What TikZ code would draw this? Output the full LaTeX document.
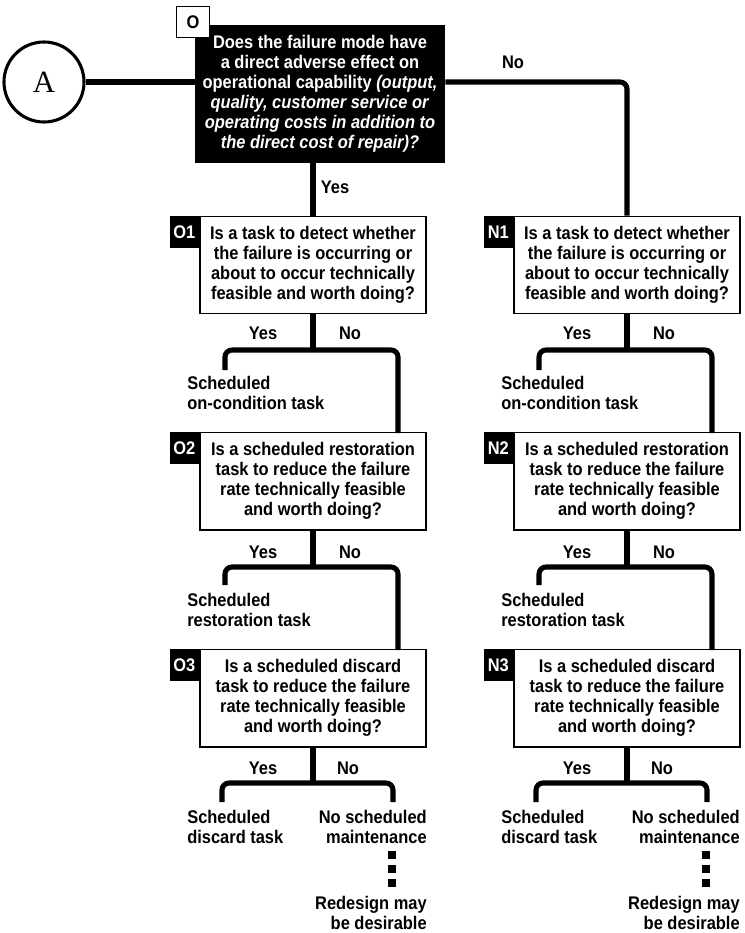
\documentclass[tikz,border=0pt]{standalone}
\usepackage{fontspec}
\setmainfont{Liberation Sans}[FakeStretch=0.9]
\newfontfamily\circfont{Liberation Serif}
\usetikzlibrary{positioning}
\newcommand{\qfont}{\fontsize{13}{14.2}\selectfont\bfseries}
\tikzset{
	wire/.style={line width=3.6pt, rounded corners=5pt},
	qbox/.style={draw, line width=1.4pt, fill=white, align=center, minimum width=5.65cm, minimum height=2.425cm, inner sep=2pt, font=\qfont},
	tagbox/.style={fill=black, text=white, minimum width=0.72cm, minimum height=0.8cm, inner sep=0pt, anchor=north east, font=\qfont},
	lbl/.style={font=\qfont, inner sep=1pt},
	outl/.style={font=\qfont, align=left, anchor=north west, inner sep=0pt},
	outr/.style={font=\qfont, align=right, anchor=north east, inner sep=0pt},
	dotsq/.style={fill=black, minimum size=0.18cm, inner sep=0pt}
}

\begin{document}
\begin{tikzpicture}[x=0.025cm, y=-0.025cm]
					\useasboundingbox (0,0) rectangle (744,933);
					
					\node[draw, circle, line width=2.2pt, minimum size=2cm, font=\circfont\fontsize{22}{22}\selectfont] (a) at (44,82) {A};
					\node[fill=black, text=white, align=center, minimum width=6.25cm, minimum height=3.45cm, inner sep=2pt, font=\qfont] (q0) at (320,94) {Does the failure mode have\\a direct adverse effect on\\operational capability \textit{(output,}\\\textit{quality, customer service or}\\\textit{operating costs in addition to}\\\textit{the direct cost of repair)?}};
					\node[draw, fill=white, line width=1.2pt, minimum width=0.82cm, minimum height=0.78cm, inner sep=0pt, font=\qfont] (t0) at (193,22) {O};
					
					\node[qbox] (o1) at (313,265) {Is a task to detect whether\\the failure is occurring or\\about to occur technically\\feasible and worth doing?};
					\node[qbox] (o2) at (313,481) {Is a scheduled restoration\\task to reduce the failure\\rate technically feasible\\and worth doing?};
					\node[qbox] (o3) at (313,698) {Is a scheduled discard\\task to reduce the failure\\rate technically feasible\\and worth doing?};
					\node[qbox] (n1) at (627,265) {Is a task to detect whether\\the failure is occurring or\\about to occur technically\\feasible and worth doing?};
					\node[qbox] (n2) at (627,481) {Is a scheduled restoration\\task to reduce the failure\\rate technically feasible\\and worth doing?};
					\node[qbox] (n3) at (627,698) {Is a scheduled discard\\task to reduce the failure\\rate technically feasible\\and worth doing?};
					\node[tagbox] (to1) at (o1.north west) {O1};
					\node[tagbox] (to2) at (o2.north west) {O2};
					\node[tagbox] (to3) at (o3.north west) {O3};
					\node[tagbox] (tn1) at (n1.north west) {N1};
					\node[tagbox] (tn2) at (n2.north west) {N2};
					\node[tagbox] (tn3) at (n3.north west) {N3};
					
					\coordinate (o1b) at (313,350);
					\coordinate (o1y) at (225,370);
					\coordinate (o1n) at (398,433);
					\coordinate (o2b) at (313,567);
					\coordinate (o2y) at (225,585);
					\coordinate (o2n) at (398,650);
					\coordinate (o3b) at (313,783);
					\coordinate (o3y) at (222,802);
					\coordinate (o3z) at (393,802);
					\coordinate (n1b) at (627,350);
					\coordinate (n1y) at (539,370);
					\coordinate (n1n) at (712,433);
					\coordinate (n2b) at (627,567);
					\coordinate (n2y) at (539,585);
					\coordinate (n2n) at (712,650);
					\coordinate (n3b) at (627,783);
					\coordinate (n3y) at (536,802);
					\coordinate (n3z) at (707,802);
					
					\draw[wire] (a) -- (a -| q0.west);
					\draw[wire] (a -| q0.east) -| (n1.north);
					\draw[wire] (o1.north |- q0.south) -- (o1.north);
					\node[lbl] (no0) at (513,62) {No};
					\node[lbl] (yes0) at (335,187) {Yes};
					
					\draw[wire] (o1.south) -- (o1b);
					\draw[wire] (o1y) |- (o1b) -| (o1n);
					\draw[wire] (o2.south) -- (o2b);
					\draw[wire] (o2y) |- (o2b) -| (o2n);
					\draw[wire] (o3.south) -- (o3b);
					\draw[wire] (o3y) |- (o3b) -| (o3z);
					\draw[wire] (n1.south) -- (n1b);
					\draw[wire] (n1y) |- (n1b) -| (n1n);
					\draw[wire] (n2.south) -- (n2b);
					\draw[wire] (n2y) |- (n2b) -| (n2n);
					\draw[wire] (n3.south) -- (n3b);
					\draw[wire] (n3y) |- (n3b) -| (n3z);
					
					\node[lbl] (yo1) at (263,333) {Yes};
					\node[lbl] (no1) at (350,333) {No};
					\node[lbl] (yo2) at (263,552) {Yes};
					\node[lbl] (no2) at (350,552) {No};
					\node[lbl] (yo3) at (263,768) {Yes};
					\node[lbl] (no3) at (348,768) {No};
					\node[lbl] (yn1) at (577,333) {Yes};
					\node[lbl] (nn1) at (664,333) {No};
					\node[lbl] (yn2) at (577,552) {Yes};
					\node[lbl] (nn2) at (664,552) {No};
					\node[lbl] (yn3) at (577,768) {Yes};
					\node[lbl] (nn3) at (662,768) {No};
					
					\node[outl] (so1) at (187,376) {Scheduled\\on-condition task};
					\node[outl] (so2) at (187,593) {Scheduled\\restoration task};
					\node[outl] (so3) at (187,810) {Scheduled\\discard task};
					\node[outr] (mo3) at (427,810) {No scheduled\\maintenance};
					\node[outr] (ro3) at (427,896) {Redesign may\\be desirable};
					\node[outl] (sn1) at (501,376) {Scheduled\\on-condition task};
					\node[outl] (sn2) at (501,593) {Scheduled\\restoration task};
					\node[outl] (sn3) at (501,810) {Scheduled\\discard task};
					\node[outr] (mn3) at (740,810) {No scheduled\\maintenance};
					\node[outr] (rn3) at (740,896) {Redesign may\\be desirable};
					
					\node[dotsq] (do1) at (392,855) {};
					\node[dotsq] (do2) at (392,869) {};
					\node[dotsq] (do3) at (392,883) {};
					\node[dotsq] (dn1) at (706,855) {};
					\node[dotsq] (dn2) at (706,869) {};
					\node[dotsq] (dn3) at (706,883) {};
					\end{tikzpicture}
\end{document}
